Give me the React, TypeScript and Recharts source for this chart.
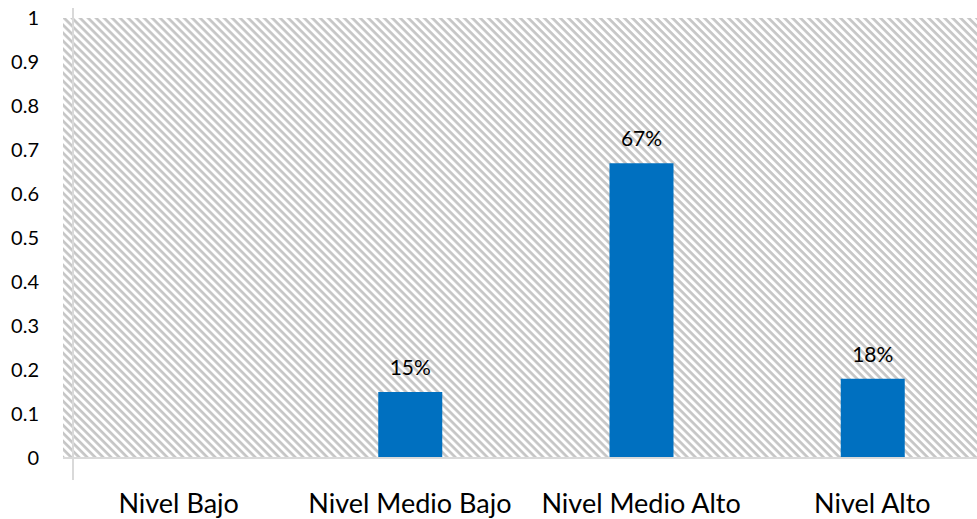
import React from 'react';
import { BarChart, Bar, XAxis, YAxis, CartesianGrid, LabelList } from 'recharts';

const categories = ['Nivel Bajo', 'Nivel Medio Bajo', 'Nivel Medio Alto', 'Nivel Alto'];
const values = [0, 0.15, 0.67, 0.18];
const yTicks = [0, 0.1, 0.2, 0.3, 0.4, 0.5, 0.6, 0.7, 0.8, 0.9, 1];

const data = categories.map((name, i) => ({ name, value: values[i] }));

const FONT = 'Lato, "Noto Sans", sans-serif';

const pctLabel = (v: any) => (Number(v) > 0 ? `${Math.round(Number(v) * 100)}%` : '');

export default function App() {
  return (
    <div
      style={{
        position: 'fixed',
        left: 0,
        top: 0,
        width: 977,
        height: 519,
        overflow: 'hidden',
        background: '#fff',
        fontFamily: FONT,
      }}
    >
      <BarChart
        width={1000}
        height={519}
        data={data}
        margin={{ top: 18, right: 12, bottom: 0, left: 0 }}
      >
        <defs>
          <pattern
            id="hatch"
            width={5.66}
            height={5.66}
            patternUnits="userSpaceOnUse"
            patternTransform="rotate(45)"
          >
            <rect width={5.66} height={5.66} fill="#ffffff" />
            <rect width={5.66} height={2.7} fill="#c6c6c6" />
          </pattern>
        </defs>
        <CartesianGrid fill="url(#hatch)" stroke="none" />
        <XAxis
          dataKey="name"
          height={61}
          tickLine={false}
          tickSize={0}
          tickMargin={36}
          axisLine={{ stroke: '#d9d9d9', strokeWidth: 2 }}
          tick={{ fill: '#000', fontSize: 27, fontFamily: FONT }}
          interval={0}
        />
        <YAxis
          width={63}
          domain={[0, 1]}
          ticks={yTicks}
          axisLine={false}
          tickLine={false}
          tickSize={0}
          tickMargin={24}
          tickFormatter={(v: number) => String(v)}
          tick={{ fill: '#000', fontSize: 20, fontFamily: FONT }}
        />
        <Bar dataKey="value" fill="#0070C0" barSize={64} isAnimationActive={false}>
          <LabelList
            dataKey="value"
            position="top"
            offset={17}
            formatter={pctLabel}
            style={{ fill: '#000', fontSize: 21, fontFamily: FONT }}
          />
        </Bar>
      </BarChart>
      <div
        style={{
          position: 'absolute',
          left: 72,
          top: 8,
          width: 2,
          height: 472,
          background: '#d9d9d9',
        }}
      />
    </div>
  );
}
